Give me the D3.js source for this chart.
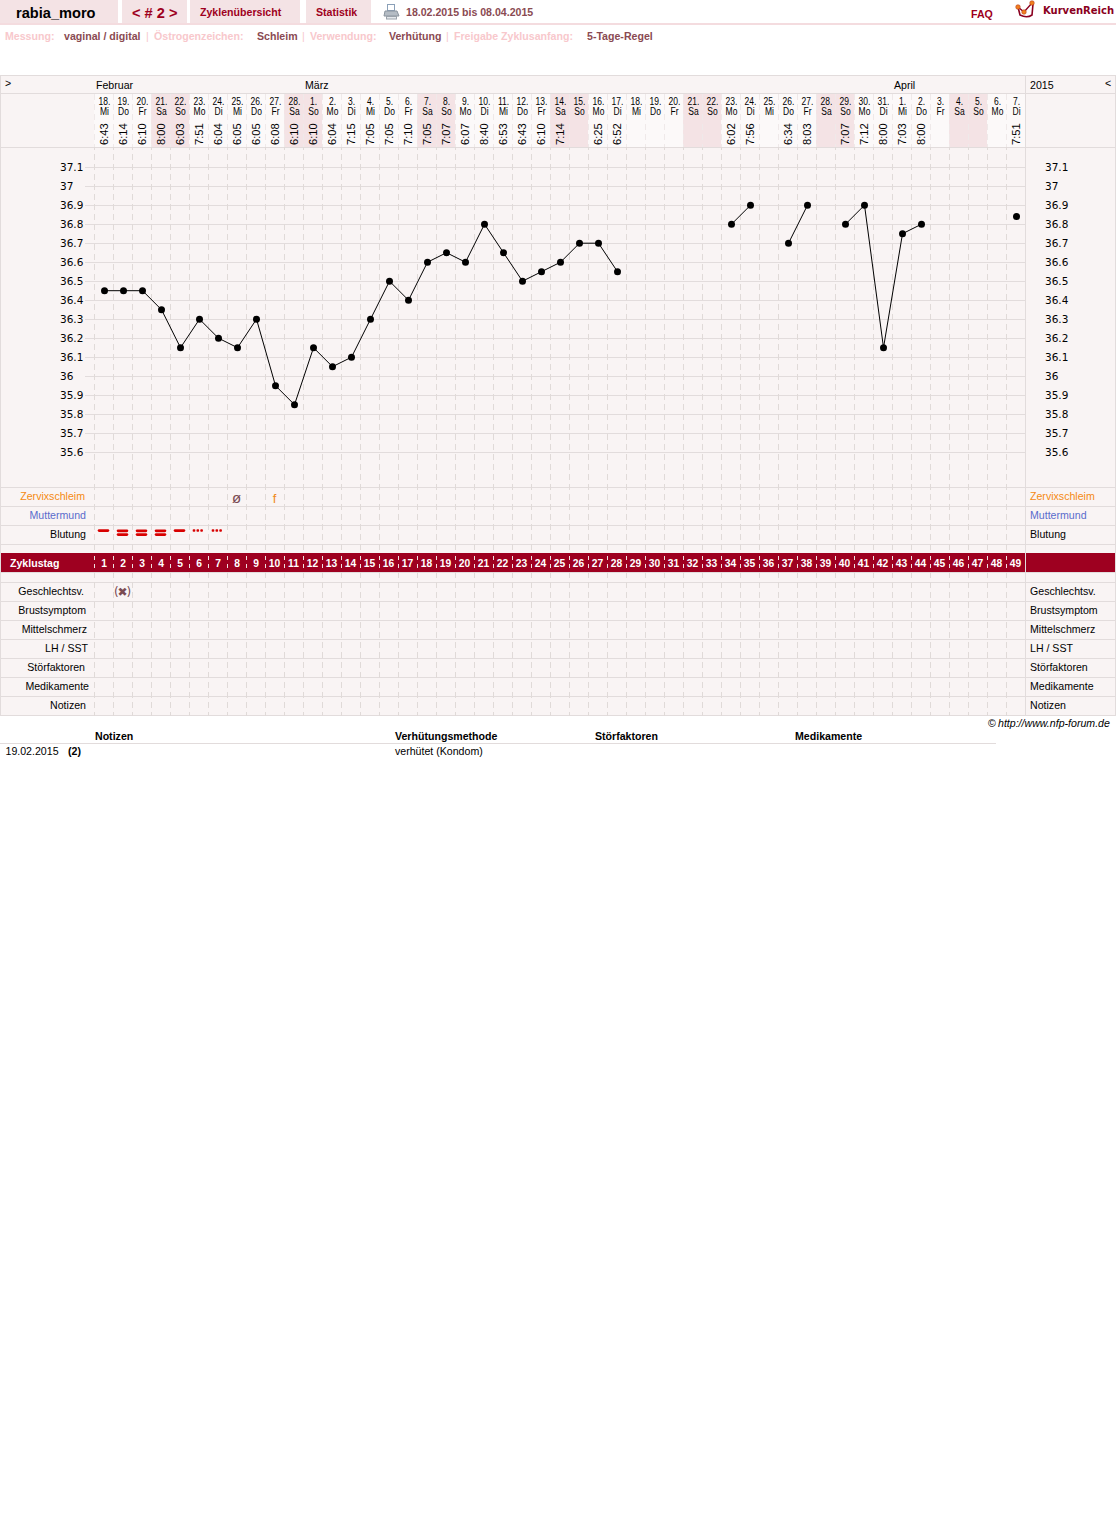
<!DOCTYPE html>
<html><head><meta charset="utf-8">
<script src="https://cdnjs.cloudflare.com/ajax/libs/d3/7.8.5/d3.min.js"></script>
<style>html,body{margin:0;padding:0;background:#fff}svg{display:block}text{font-family:"Liberation Sans",Arial,sans-serif;font-size:10.6px;fill:#000}</style>
</head><body><div id="c"></div>
<script>
const dayNums=[18,19,20,21,22,23,24,25,26,27,28,1,2,3,4,5,6,7,8,9,10,11,12,13,14,15,16,17,18,19,20,21,22,23,24,25,26,27,28,29,30,31,1,2,3,4,5,6,7];
const weekdays=["Mi","Do","Fr","Sa","So","Mo","Di","Mi","Do","Fr","Sa","So","Mo","Di","Mi","Do","Fr","Sa","So","Mo","Di","Mi","Do","Fr","Sa","So","Mo","Di","Mi","Do","Fr","Sa","So","Mo","Di","Mi","Do","Fr","Sa","So","Mo","Di","Mi","Do","Fr","Sa","So","Mo","Di"];
const times=["6:43","6:14","6:10","8:00","6:03","7:51","6:04","6:05","6:05","6:08","6:10","6:10","6:04","7:15","7:05","7:05","7:10","7:05","7:07","6:07","8:40","6:53","6:43","6:10","7:14","","6:25","6:52","","","","","","6:02","7:56","","6:34","8:03","","7:07","7:12","8:00","7:03","8:00","","","","","7:51"];
const temps=[36.45,36.45,36.45,36.35,36.15,36.3,36.2,36.15,36.3,35.95,35.85,36.15,36.05,36.1,36.3,36.5,36.4,36.6,36.65,36.6,36.8,36.65,36.5,36.55,36.6,36.7,36.7,36.55,null,null,null,null,null,36.8,36.9,null,36.7,36.9,null,36.8,36.9,36.15,36.75,36.8,null,null,null,null,36.84];
const tempTicks=[37.1,37,36.9,36.8,36.7,36.6,36.5,36.4,36.3,36.2,36.1,36,35.9,35.8,35.7,35.6];
const months=[{name:"Februar",col:0},{name:"März",col:11},{name:"April",col:42}];
const bleeding=[{d:1,k:"single"},{d:2,k:"double"},{d:3,k:"double"},{d:4,k:"double"},{d:5,k:"single"},{d:6,k:"dots"},{d:7,k:"dots"}];
const mucus=[{d:8,t:"ø",c:"#7a4a52",s:15},{d:10,t:"f",c:"#f08a1a",s:13}];
const rowsTop=[{n:"Zervixschleim",c:"#f58a12",lx:85},{n:"Muttermund",c:"#5a6ccc",lx:86},{n:"Blutung",c:"#000",lx:86}];
const rowsBottom=[{n:"Geschlechtsv.",lx:84},{n:"Brustsymptom",lx:86},{n:"Mittelschmerz",lx:87},{n:"LH / SST",lx:88},{n:"Störfaktoren",lx:85},{n:"Medikamente",lx:89},{n:"Notizen",lx:86}];
const cycleDays=d3.range(1,50);
const topItems=[{t:"Messung:",x:5,c:"#f8c8cc"},{t:"vaginal / digital",x:64,c:"#8a4a52"},{t:"|",x:146,c:"#f8c8cc",n:1},{t:"Östrogenzeichen:",x:154,c:"#f8c8cc"},{t:"Schleim",x:257,c:"#8a4a52"},{t:"|",x:302,c:"#f8c8cc",n:1},{t:"Verwendung:",x:310,c:"#f8c8cc"},{t:"Verhütung",x:389,c:"#8a4a52"},{t:"|",x:446,c:"#f8c8cc",n:1},{t:"Freigabe Zyklusanfang:",x:454,c:"#f8c8cc"},{t:"5-Tage-Regel",x:587,c:"#8a4a52"}];
const noteHeads=[{t:"Notizen",x:95},{t:"Verhütungsmethode",x:395},{t:"Störfaktoren",x:595},{t:"Medikamente",x:795}];

const W=1116,H=1515,L=94,R=1025,GRID="#e2dcdc",BG="#f9f4f4",PALE="#f4e3e5",DK="#9e0020";
const svg=d3.select("#c").append("svg").attr("width",W).attr("height",H);
const xBand=d3.scaleBand().domain(cycleDays).range([L,R]);
const xC=d=>xBand(d)+10.5;
const y=d3.scaleLinear().domain([35.6,37.1]).range([452,167]);
const rect=(x,yy,w,h,f)=>svg.append("rect").attr("x",x).attr("y",yy).attr("width",w).attr("height",h).attr("fill",f);
const hline=(x1,x2,yy,c=GRID)=>svg.append("line").attr("x1",x1).attr("x2",x2).attr("y1",yy+.5).attr("y2",yy+.5).attr("stroke",c);
const vline=(x,y1,y2,c=GRID)=>svg.append("line").attr("x1",x+.5).attr("x2",x+.5).attr("y1",y1).attr("y2",y2).attr("stroke",c);
const text=(t,x,yy,o={})=>{const e=svg.append("text").attr("x",x).attr("y",yy).text(t);
 if(o.a)e.attr("text-anchor",o.a);if(o.c)e.style("fill",o.c);if(o.b)e.style("font-weight","bold");if(o.s)e.style("font-size",o.s+"px");if(o.i)e.style("font-style","italic");if(o.f)e.style("font-family",o.f);if(o.ls)e.style("letter-spacing",o.ls+"px");return e;};

// top nav
rect(0,0,118,23,PALE);rect(122,0,65,23,PALE);rect(190,0,110,23,PALE);rect(306,0,65,23,PALE);
hline(0,W,23,"#f4dcdf");hline(0,W,24,"#f4dcdf");
text("rabia_moro",16,18,{b:1,s:14.6});
text("< # 2 >",132,18,{b:1,s:14.6,c:DK});
text("Zyklenübersicht",200,16,{b:1,c:DK});
text("Statistik",316,16,{b:1,c:DK});
text("18.02.2015 bis 08.04.2015",406,16,{b:1,c:"#8a4a52"});
text("FAQ",971,18,{b:1,c:DK});
text("KurvenReich",1043,14,{b:1,c:"#8a0020",f:"'DejaVu Sans',sans-serif",s:10});
// printer icon
rect(387.5,4.5,7,6,"#fff").attr("stroke","#8aa0b8");
svg.append("path").attr("d","M385 11h12l2 5h-15z").attr("fill","#b4bcc4").attr("stroke","#8a949e");
rect(386.5,16.5,10,2.5,"#e4e8ec").attr("stroke","#9aa2aa");
// logo
svg.append("path").attr("d","M1018 7l2 8c4 2 9 2 12 0l1-11").attr("fill","none").attr("stroke","#8a0020").attr("stroke-width",1.6);
svg.append("path").attr("d","M1018 7l6 5 8-9").attr("fill","none").attr("stroke","#8a0020").attr("stroke-width",1.3);
[[1018,7],[1024,12],[1032,3]].forEach(p=>svg.append("circle").attr("cx",p[0]).attr("cy",p[1]).attr("r",2.3).attr("fill","#f08020").attr("stroke","#b03010").attr("stroke-width",.5));
topItems.forEach(d=>text(d.t,d.x,40,{b:!d.n,c:d.c}));

// chart panel
rect(0,75,W,641,BG);
rect(L,94,R-L,53,"#fcf9f9");
cycleDays.forEach((d,i)=>{const wd=weekdays[i];
 if(wd==="Sa"||wd==="So")rect(xBand(d),94,19,53,PALE);});
[75,93,147,487,506,525,544,553,572,582,601,620,639,658,677,696,715].forEach(v=>hline(0,W,v));
vline(0,75,716);vline(1115,75,716);vline(R,75,716);
svg.append("g").selectAll("line").data(tempTicks).join("line")
 .attr("x1",85).attr("x2",R).attr("y1",d=>y(d)+.5).attr("y2",d=>y(d)+.5).attr("stroke",GRID);
const dashRanges=[[147,487,3],[487,553,3],[572,716,0]];
cycleDays.forEach(d=>{
 dashRanges.forEach(r=>svg.append("line").attr("x1",xBand(d)+.5).attr("x2",xBand(d)+.5).attr("y1",r[0]).attr("y2",r[1])
  .attr("stroke","#e0dad8").attr("stroke-dasharray","6,4").attr("stroke-dashoffset",r[2]));
 svg.append("line").attr("x1",xBand(d)+.5).attr("x2",xBand(d)+.5).attr("y1",94).attr("y2",147).attr("stroke","#efe9e9").attr("stroke-dasharray","6,4");
});
text(">",5,87);text("<",1105,87);text("2015",1030,89);
months.forEach(m=>text(m.name,L+2+m.col*19,89));
cycleDays.forEach((d,i)=>{
 const cx=xC(d);
 svg.append("text").attr("transform",`translate(${cx},104.5) scale(.74,1)`).attr("text-anchor","middle").text(dayNums[i]+".").style("font-size","11.5px");
 svg.append("text").attr("transform",`translate(${cx},114.5) scale(.74,1)`).attr("text-anchor","middle").text(weekdays[i]).style("font-size","11.5px");
 if(times[i])svg.append("text").attr("transform",`translate(${cx+3.5},145) rotate(-90)`).text(times[i]).style("font-size","11.2px");
});
const mono="'DejaVu Sans',sans-serif";
tempTicks.forEach(t=>{
 text(String(t),60,y(t)+4,{f:mono,s:10.5});
 text(String(t),1045,y(t)+4,{f:mono,s:10.5});
});
const line=d3.line().defined(d=>d!=null).x((d,i)=>xC(i+1)).y(d=>y(d)+.2);
svg.append("path").attr("d",line(temps)).attr("fill","none").attr("stroke","#000").attr("stroke-width",1);
svg.append("g").selectAll("circle").data(temps.map((v,i)=>({v,d:i+1})).filter(e=>e.v!=null)).join("circle")
 .attr("cx",e=>xC(e.d)).attr("cy",e=>y(e.v)+.2).attr("r",3.5).attr("fill","#000");
rowsTop.forEach((r,i)=>{const b=487+i*19+13;
 text(r.n,r.lx,b,{a:"end",c:r.c});text(r.n,1030,b,{c:r.c});});
rowsBottom.forEach((r,i)=>{const b=582+i*19+13;
 text(r.n,r.lx,b,{a:"end"});text(r.n,1030,b);});
mucus.forEach(m=>text(m.t,xC(m.d)-1,503,{a:"middle",c:m.c,s:m.s}));
bleeding.forEach(b=>{const x=xBand(b.d)+3.7;
 const bar=(yy)=>rect(x,yy,11.6,2.8,"#d80000").attr("rx",1.4);
 if(b.k==="single")bar(529.2);
 else if(b.k==="double"){bar(529.4);bar(533.2);}
 else d3.range(3).forEach(k=>rect(x+k*3.8,529.2,2.6,2.6,"#d80000").attr("rx",.8));
});
text("(✖)",xC(2)-1.5,595.5,{a:"middle",c:"#7a4a52",s:12,f:mono,ls:-1.2});
rect(1,553,R-1,19,DK);rect(R+1,553,W-R-2,19,DK);
text("Zyklustag",10,567,{b:1,c:"#fff"});
cycleDays.forEach(d=>{
 svg.append("line").attr("x1",xBand(d)+.5).attr("x2",xBand(d)+.5).attr("y1",556).attr("y2",572).attr("stroke","#f0e0e0").attr("stroke-dasharray","4,4");
 text(d,xC(d)-(d>=10?1:.5),567,{a:"middle",b:1,c:"#fff",s:10.3});
});
text("©",988,727);text("http://www.nfp-forum.de",998,727,{i:1});
noteHeads.forEach(h=>text(h.t,h.x,740,{b:1}));
hline(0,996,743);
text("19.02.2015",5.5,755);text("(2)",68,755,{b:1});text("verhütet (Kondom)",395,755);
</script></body></html>
